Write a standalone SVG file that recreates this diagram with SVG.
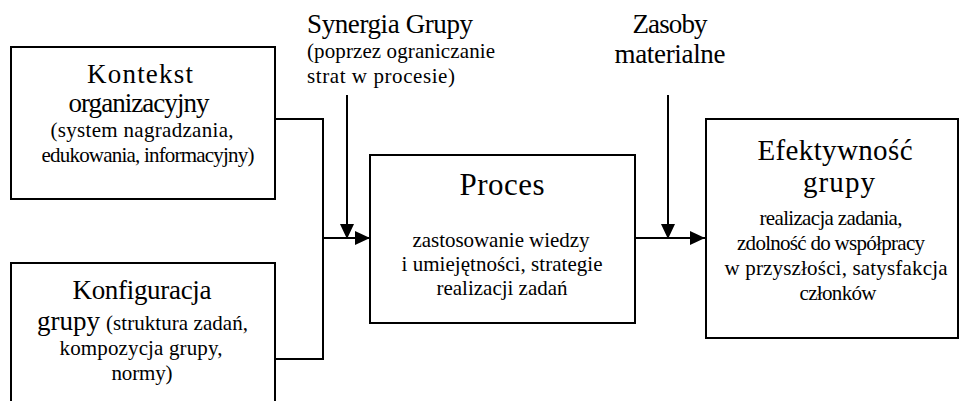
<svg xmlns="http://www.w3.org/2000/svg" width="959" height="401" viewBox="0 0 959 401">
<style>
.box{fill:#fff;stroke:#000;stroke-width:2}
.ln{fill:none;stroke:#000;stroke-width:2}
text{font-family:"Liberation Serif","Times New Roman",serif;fill:#000}
.b{font-size:27px}
.s{font-size:21px}
.c{text-anchor:middle}
</style>
<defs>
<marker id="ah" markerWidth="15" markerHeight="14" refX="15" refY="7" orient="auto" markerUnits="userSpaceOnUse" viewBox="0 0 15 14">
<path d="M0,0 L15,7 L0,14 z" fill="#000"/>
</marker>
</defs>
<rect width="959" height="401" fill="#fff"/>
<g id="connectors">
<polyline class="ln" points="275,119 323,119 323,359 275,359"/>
<line class="ln" x1="323" y1="238" x2="370" y2="238" marker-end="url(#ah)"/>
<line class="ln" x1="347" y1="95" x2="347" y2="239" marker-end="url(#ah)"/>
<line class="ln" x1="635" y1="238" x2="705" y2="238" marker-end="url(#ah)"/>
<line class="ln" x1="668" y1="95" x2="668" y2="239" marker-end="url(#ah)"/>
</g>
<g id="kontekst">
<rect class="box" x="11" y="47" width="264" height="152"/>
<text class="b c" x="140" y="83" textLength="106">Kontekst</text>
<text class="b c" x="139" y="112" textLength="141">organizacyjny</text>
<text class="s c" x="142" y="137" textLength="183">(system nagradzania,</text>
<text class="s c" x="148" y="162" textLength="213">edukowania, informacyjny)</text>
</g>
<g id="konfiguracja">
<rect class="box" x="11" y="263" width="264" height="150"/>
<text class="b c" x="142" y="299" textLength="139">Konfiguracja</text>
<text y="330"><tspan class="b" x="37" textLength="63">grupy</tspan><tspan class="s" x="106" textLength="142">(struktura zadań,</tspan></text>
<text class="s c" x="141" y="355" textLength="163">kompozycja grupy,</text>
<text class="s c" x="142" y="380" textLength="61">normy)</text>
</g>
<g id="synergia">
<text class="b" x="307" y="33" textLength="166">Synergia Grupy</text>
<text class="s" x="307" y="58" textLength="188">(poprzez ograniczanie</text>
<text class="s" x="307" y="83" textLength="148">strat w procesie)</text>
</g>
<g id="zasoby">
<text class="b c" x="670" y="33" textLength="75">Zasoby</text>
<text class="b c" x="670" y="63" textLength="111">materialne</text>
</g>
<g id="proces">
<rect class="box" x="370" y="155" width="265" height="168"/>
<text class="c" x="502" y="195" font-size="31" textLength="85">Proces</text>
<text class="s c" x="501" y="247" textLength="177">zastosowanie wiedzy</text>
<text class="s c" x="502" y="271" textLength="201">i umiejętności, strategie</text>
<text class="s c" x="502" y="295" textLength="131">realizacji zadań</text>
</g>
<g id="efektywnosc">
<rect class="box" x="706" y="119" width="252" height="219"/>
<text class="c" x="835" y="160" font-size="29" textLength="155">Efektywność</text>
<text class="c" x="839" y="192" font-size="29" textLength="72">grupy</text>
<text class="s c" x="831" y="225" textLength="143">realizacja zadania,</text>
<text class="s c" x="831" y="250" textLength="188">zdolność do współpracy</text>
<text class="s c" x="836" y="275" textLength="223">w przyszłości, satysfakcja</text>
<text class="s c" x="838" y="300" textLength="77">członków</text>
</g>
</svg>
